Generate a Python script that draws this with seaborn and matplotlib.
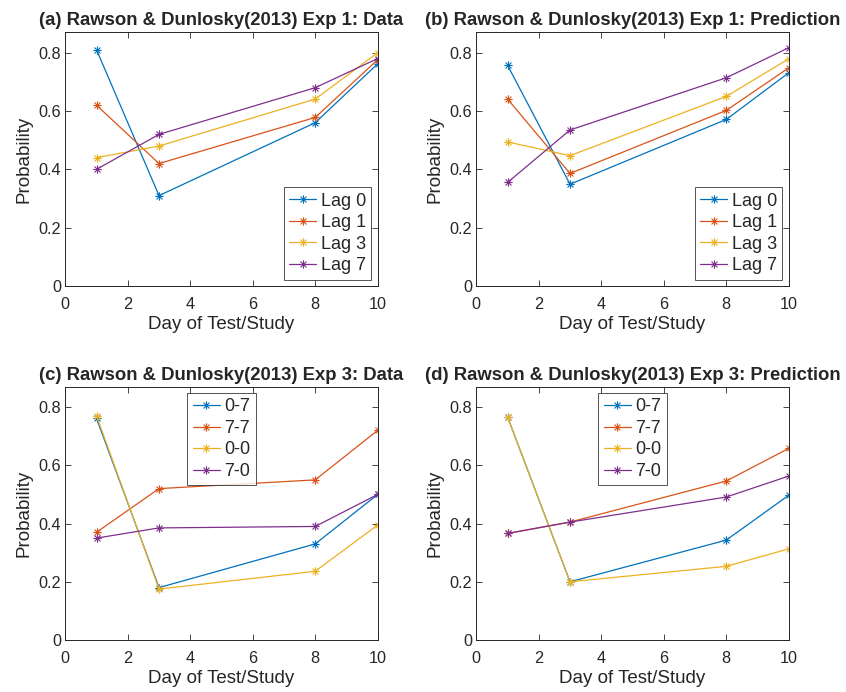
import numpy as np
import pandas as pd
import matplotlib
matplotlib.use("Agg")
import matplotlib.pyplot as plt
from matplotlib.path import Path
import seaborn as sns

days = [1, 3, 8, 10]

exp1_labels = ["Lag 0", "Lag 1", "Lag 3", "Lag 7"]
exp1_data_lag0 = [0.81, 0.31, 0.56, 0.762]
exp1_data_lag1 = [0.62, 0.42, 0.578, 0.776]
exp1_data_lag3 = [0.44, 0.48, 0.641, 0.80]
exp1_data_lag7 = [0.40, 0.52, 0.68, 0.78]

exp1_pred_lag0 = [0.757, 0.349, 0.571, 0.731]
exp1_pred_lag1 = [0.641, 0.386, 0.602, 0.748]
exp1_pred_lag3 = [0.494, 0.447, 0.650, 0.779]
exp1_pred_lag7 = [0.355, 0.535, 0.714, 0.817]

exp3_labels = ["0-7", "7-7", "0-0", "7-0"]
exp3_data_07 = [0.761, 0.18, 0.33, 0.50]
exp3_data_77 = [0.37, 0.52, 0.55, 0.72]
exp3_data_00 = [0.77, 0.175, 0.236, 0.395]
exp3_data_70 = [0.35, 0.385, 0.39, 0.50]

exp3_pred_07 = [0.766, 0.20, 0.343, 0.497]
exp3_pred_77 = [0.366, 0.405, 0.546, 0.658]
exp3_pred_00 = [0.766, 0.20, 0.253, 0.313]
exp3_pred_70 = [0.366, 0.405, 0.491, 0.563]

titles = ["(a) Rawson & Dunlosky(2013) Exp 1: Data",
          "(b) Rawson & Dunlosky(2013) Exp 1: Prediction",
          "(c) Rawson & Dunlosky(2013) Exp 3: Data",
          "(d) Rawson & Dunlosky(2013) Exp 3: Prediction"]

colors = ["#0072BD", "#D95319", "#EDB120", "#7E2F8E"]


def long_df(labels, series):
    rows = []
    for lab, vals in zip(labels, series):
        for d, v in zip(days, vals):
            rows.append({"day": d, "p": v, "grp": lab})
    return pd.DataFrame(rows)


panels = [
    (long_df(exp1_labels, [exp1_data_lag0, exp1_data_lag1, exp1_data_lag3, exp1_data_lag7]), exp1_labels, "lower right"),
    (long_df(exp1_labels, [exp1_pred_lag0, exp1_pred_lag1, exp1_pred_lag3, exp1_pred_lag7]), exp1_labels, "lower right"),
    (long_df(exp3_labels, [exp3_data_07, exp3_data_77, exp3_data_00, exp3_data_70]), exp3_labels, "upper center"),
    (long_df(exp3_labels, [exp3_pred_07, exp3_pred_77, exp3_pred_00, exp3_pred_70]), exp3_labels, "upper center"),
]

sns.set_style("ticks")
plt.rcParams["font.family"] = ["Liberation Sans", "DejaVu Sans"]
plt.rcParams["xtick.direction"] = "in"
plt.rcParams["ytick.direction"] = "in"
plt.rcParams["xtick.top"] = True
plt.rcParams["ytick.right"] = True

ast = Path([(0, -1), (0, 1), (-1, 0), (1, 0), (-0.71, -0.71), (0.71, 0.71), (-0.71, 0.71), (0.71, -0.71)],
           [Path.MOVETO, Path.LINETO] * 4)

fig = plt.figure(figsize=(8.46, 6.92), dpi=100)
W, H = 846.0, 692.0
positions = [
    (65.3, 32.3, 377.7, 286.0),
    (476.3, 32.3, 788.7, 286.0),
    (65.3, 386.7, 377.7, 640.0),
    (476.3, 386.7, 788.7, 640.0),
]

for i, ((df, labels, loc), (l, t, r, b)) in enumerate(zip(panels, positions)):
    ax = fig.add_axes([l / W, 1 - b / H, (r - l) / W, (b - t) / H])
    sns.lineplot(data=df, x="day", y="p", hue="grp", hue_order=labels, palette=colors,
                 marker=ast, markersize=6, markeredgewidth=0.8, linewidth=0.9,
                 estimator=None, errorbar=None, legend=False, ax=ax)
    for ln in ax.get_lines():
        ln.set_markeredgecolor(ln.get_color())
        ln.set_markerfacecolor("none")
    ax.set_xlim(0, 10)
    ax.set_ylim(0, 0.87)
    ax.set_xticks([0, 2, 4, 6, 8, 10])
    ax.set_xticklabels(["0", "2", "4", "6", "8", "10"])
    ax.set_yticks([0, 0.2, 0.4, 0.6, 0.8])
    ax.set_yticklabels(["0", "0.2", "0.4", "0.6", "0.8"])
    ax.tick_params(labelsize=11.7, length=4, width=0.6, color="#262626", labelcolor="#262626")
    ax.tick_params(axis="x", pad=8)
    ax.tick_params(axis="y", pad=3)
    for s in ax.spines.values():
        s.set_visible(True)
        s.set_linewidth(0.7)
        s.set_color("#262626")
    ax.set_xlabel("Day of Test/Study", fontsize=13.5, color="#262626", labelpad=3)
    ax.set_ylabel("Probability", fontsize=13.5, color="#262626", labelpad=4)
    ax.set_title(titles[i], fontsize=13.3, fontweight="bold", pad=5)
    handles = ax.get_lines()[:4]
    leg = ax.legend(handles, labels, loc=loc, fontsize=13, frameon=True, fancybox=False,
                    borderaxespad=0.35, handlelength=1.5, handletextpad=0.25,
                    labelspacing=0.25, borderpad=0.3)
    leg.get_frame().set_edgecolor("#262626")
    leg.get_frame().set_linewidth(0.7)

fig.savefig("out.png", dpi=100, facecolor="white")
